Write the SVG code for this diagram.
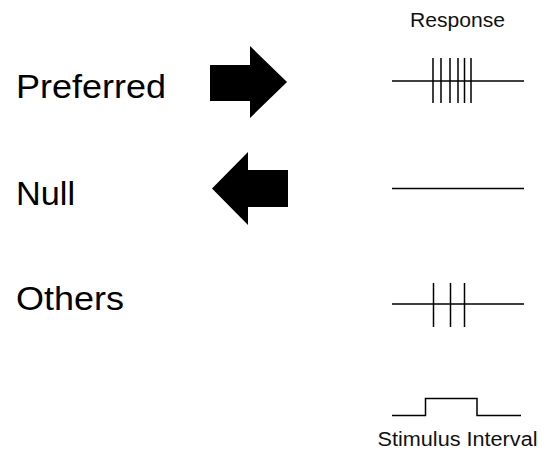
<svg xmlns="http://www.w3.org/2000/svg" width="542" height="450" viewBox="0 0 542 450">
<style>
.lbl{font-family:"Liberation Sans",Arial,sans-serif;font-size:32.5px;fill:#000}
.sm{font-family:"Liberation Sans",Arial,sans-serif;font-size:20px;fill:#111}
.ln{stroke:#000;stroke-width:1.5;fill:none}
.arrow{fill:#000}
</style>
<rect width="542" height="450" fill="#fff"/>
<g id="header"><text class="sm" x="410" y="26.5" textLength="95" lengthAdjust="spacingAndGlyphs">Response</text></g>
<g id="preferred">
<text class="lbl" x="16" y="98" textLength="150" lengthAdjust="spacingAndGlyphs">Preferred</text>
<polygon class="arrow" points="210,65 250,65 250,46 287,82 250,118 250,101 210,101"/>
<path class="ln" d="M392,81H524M433,58V103M441,58V103M450,58V103M458,58V103M464.5,58V103M471,58V103"/>
</g>
<g id="null">
<text class="lbl" x="16" y="205" textLength="59" lengthAdjust="spacingAndGlyphs">Null</text>
<polygon class="arrow" points="288,170 248,170 248,152 212,188.5 248,225 248,207 288,207"/>
<path class="ln" d="M392,188.5H524"/>
</g>
<g id="others">
<text class="lbl" x="16" y="310" textLength="108" lengthAdjust="spacingAndGlyphs">Others</text>
<path class="ln" d="M392,304H524M433.5,283V327M450.5,283V327M464.5,283V327"/>
</g>
<g id="stimulus">
<path class="ln" d="M392,415.5H425.5V398.5H477V415.5H521"/>
<text class="sm" x="377.5" y="446" font-size="19" textLength="160" lengthAdjust="spacingAndGlyphs">Stimulus Interval</text>
</g>
</svg>
